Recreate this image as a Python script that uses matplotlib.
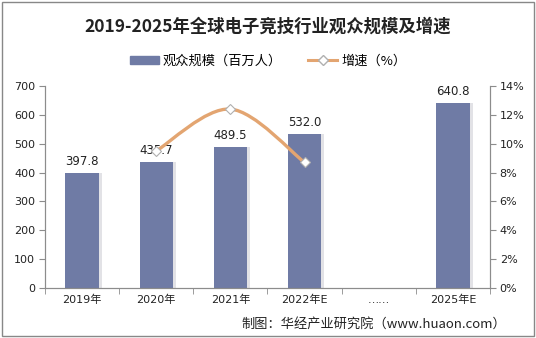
import matplotlib.pyplot as plt
from matplotlib.path import Path
from matplotlib.patches import PathPatch, Rectangle
from matplotlib.lines import Line2D
from matplotlib.ticker import FuncFormatter
import numpy as np

plt.rcParams['font.family'] = ['Noto Sans CJK SC', 'DejaVu Sans']

categories = ['2019年', '2020年', '2021年', '2022年E', '……', '2025年E']
audience = [397.8, 435.7, 489.5, 532.0, None, 640.8]
growth_idx = [1, 2, 3]
growth = [9.5, 12.4, 8.7]

bar_color = '#6F7BA5'
line_color = '#E3A571'
axis_color = '#8C8C8C'

fig = plt.figure(figsize=(5.36, 3.38), dpi=100)
ax = fig.add_axes([45 / 536, 1 - 288 / 338, 445 / 536, 202 / 338])
ax2 = ax.twinx()

x = np.arange(len(categories))
for i, v in enumerate(audience):
    if v is None:
        continue
    # soft shadow on the right
    ax.bar(x[i] + 0.04, v, width=0.45, color='#E2E2E6', zorder=1)
    ax.bar(x[i], v, width=0.45, color=bar_color, zorder=2)
    ax.text(x[i], v + 18, f'{v:.1f}', ha='center', va='bottom', fontsize=8.5, color='#222222',
            family='DejaVu Sans', zorder=5)

ax.set_xlim(-0.5, len(categories) - 0.5)
ax.set_ylim(0, 700)
ax.set_yticks(range(0, 701, 100))
ax2.set_ylim(0, 14)
ax2.set_yticks(range(0, 15, 2))
ax2.yaxis.set_major_formatter(FuncFormatter(lambda v, p: f'{int(v)}%'))

ax.set_xticks(x)
ax.set_xticklabels(categories, fontsize=8, family=['DejaVu Sans', 'Noto Sans CJK SC'])
ax.set_xticks(np.arange(-0.5, len(categories), 1), minor=True)
ax.tick_params(axis='x', which='major', length=0, pad=5)
ax.tick_params(axis='x', which='minor', length=4, color=axis_color, direction='out')
ax.tick_params(axis='y', length=4, color=axis_color, labelsize=8, pad=3)
ax2.tick_params(axis='y', length=4, color=axis_color, labelsize=8, pad=3)
for a in (ax, ax2):
    for lab in a.get_yticklabels():
        lab.set_family('DejaVu Sans')
        lab.set_color('#222222')
    a.spines['top'].set_visible(False)
    for s in ['left', 'right', 'bottom']:
        a.spines[s].set_color(axis_color)
for lab in ax.get_xticklabels():
    lab.set_color('#222222')

# smooth growth curve (Catmull-Rom -> cubic Bezier)
gx = np.array(growth_idx, dtype=float)
gy = np.array(growth, dtype=float)
pts = np.column_stack([gx, gy])
verts = [pts[0]]
codes = [Path.MOVETO]
n = len(pts)
for k in range(n - 1):
    p0 = pts[k - 1] if k > 0 else pts[k]
    p1 = pts[k]
    p2 = pts[k + 1]
    p3 = pts[k + 2] if k + 2 < n else pts[k + 1]
    c1 = p1 + (p2 - p0) / 6
    c2 = p2 - (p3 - p1) / 6
    verts += [c1, c2, p2]
    codes += [Path.CURVE4] * 3
ax2.add_patch(PathPatch(Path(verts, codes), facecolor='none', edgecolor=line_color, lw=2.4, zorder=3))
ax2.plot(gx, gy, linestyle='none', marker='D', markersize=5.5, markerfacecolor='white',
         markeredgecolor='#B0B0B0', markeredgewidth=0.8, zorder=4)

# title and legend
fig.text(0.5, 1 - 27 / 338, '2019-2025年全球电子竞技行业观众规模及增速', ha='center', va='center',
         fontsize=12.5, fontweight='bold', color='#222222')
handles = [
    Rectangle((0, 0), 1, 1, color=bar_color),
    Line2D([], [], color=line_color, lw=2.2, marker='D', markersize=5,
           markerfacecolor='white', markeredgecolor='#B0B0B0'),
]
fig.legend(handles, ['观众规模（百万人）', '增速（%）'], loc='center', ncol=2,
           bbox_to_anchor=(0.5, 1 - 61 / 338), frameon=False, fontsize=9.5,
           handlelength=2.2, handleheight=0.5, columnspacing=2.0, handletextpad=0.3)

# source note
fig.text(1 - 30 / 536, 1 - 324 / 338, '制图：华经产业研究院（www.huaon.com）', ha='right',
         va='center', fontsize=9.5, color='#222222')

# outer border
fig.add_artist(Rectangle((0.004, 0.006), 0.992, 0.988, transform=fig.transFigure,
                         fill=False, edgecolor='#888888', lw=1))

fig.savefig('out.png', dpi=100, facecolor='white')
